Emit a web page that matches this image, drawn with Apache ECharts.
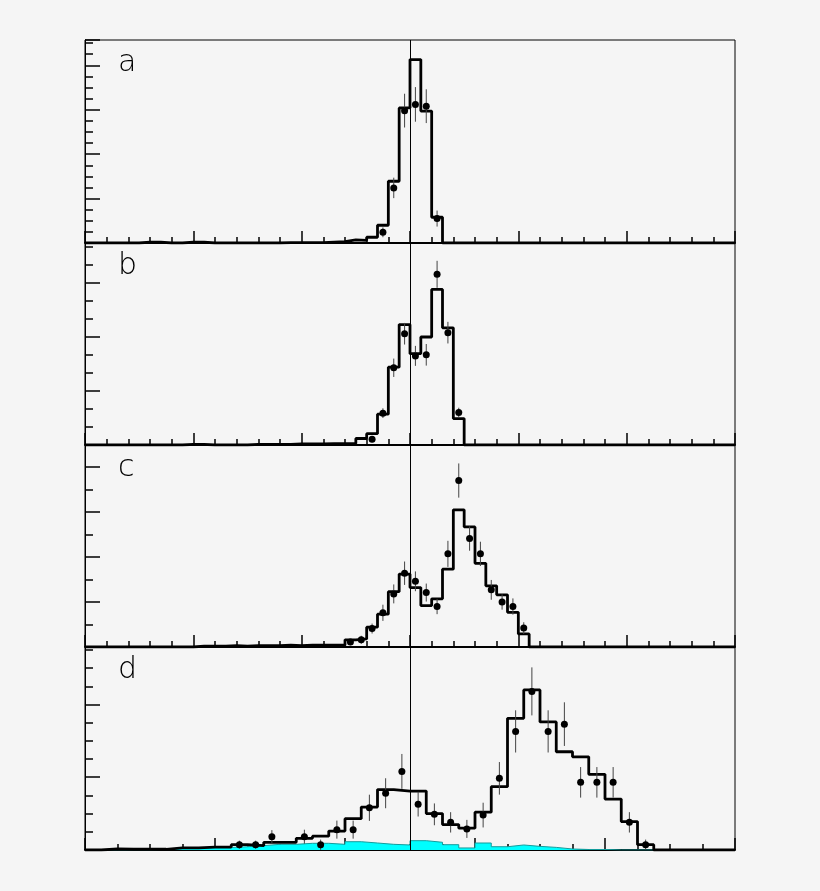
<!DOCTYPE html>
<html>
<head>
<meta charset="utf-8">
<script src="https://cdn.jsdelivr.net/npm/echarts@6/dist/echarts.min.js"></script>
<style>
  html, body { margin: 0; padding: 0; background: #f5f5f5; }
  #chart { width: 820px; height: 891px; }
</style>
</head>
<body>
<div id="chart"></div>
<script>
// panel labels
const panelNames = ['a', 'b', 'c', 'd']

// histogram bin contents (a-c: 60 bins, d: 40 bins)
const histA = [0, 0, 0, 0, 0, 0.2, 0.2, 0, 0, 0.2, 0.2, 0, 0, 0, 0, 0, 0, 0, 0.1, 0.1,
  0.1, 0.1, 0.2, 0.3, 0.7, 0.6, 1.3, 4.0, 13.9, 30.4, 41.3, 29.7, 5.8, 0, 0, 0, 0, 0, 0, 0,
  0, 0, 0, 0, 0, 0, 0, 0, 0, 0, 0, 0, 0, 0, 0, 0, 0, 0, 0, 0]
const histB = [0, 0, 0, 0, 0, 0, 0, 0, 0, 0.1, 0.1, 0, 0, 0, 0, 0.1, 0.1, 0.1, 0.1, 0.2,
  0.2, 0.2, 0.25, 0.25, 0.3, 1.2, 2.1, 5.7, 14.4, 22.3, 16.9, 20.0, 28.8, 21.7, 4.9, 0, 0, 0, 0, 0,
  0, 0, 0, 0, 0, 0, 0, 0, 0, 0, 0, 0, 0, 0, 0, 0, 0, 0, 0, 0]
const histC = [0, 0, 0, 0, 0, 0, 0, 0, 0, 0, 0.2, 0.2, 0.2, 0.3, 0.2, 0.3, 0.3, 0.3, 0.4, 0.3,
  0.4, 0.4, 0.4, 0.4, 1.6, 1.8, 4.4, 7.3, 12.3, 16.2, 13.2, 9.2, 10.7, 17.3, 30.5, 26.7, 18.6, 13.6, 11.6, 7.7,
  2.9, 0, 0, 0, 0, 0, 0, 0, 0, 0, 0, 0, 0, 0, 0, 0, 0, 0, 0, 0]
const histD = [0, 0.15, 0.1, 0.1, 0.1, 0.3, 0.3, 0.4, 0.4, 0.73, 0.6, 1.06, 1.06, 1.6, 1.9, 2.6, 4.3, 5.9, 8.3, 8.1,
  8.1, 5.0, 3.5, 3.0, 5.2, 8.7, 18.1, 22.0, 17.6, 13.5, 12.8, 10.4, 7.0, 3.9, 0.73, 0, 0, 0, 0, 0]
// background component in panel d
const bkgD = [0, 0, 0, 0, 0.1, 0.3, 0.3, 0.35, 0.35, 0.45, 0.6, 0.78, 0.78, 0.92, 0.92, 0.78, 1.14, 0.96, 0.78, 0.69,
  1.28, 1.06, 0.73, 0.28, 0.96, 0.45, 0.69, 0.5, 0.36, 0.14, 0.07, 0.07, 0, 0, 0, 0, 0, 0, 0, 0]

// data points: first bin index, values, errors
const ptStartA = 27
const ptsA = [2.4, 12.4, 29.8, 31.2, 30.8, 5.5]
const errA = [1.1, 2.3, 3.8, 3.9, 3.8, 1.8]
const ptStartB = 26
const ptsB = [1.05, 5.9, 14.3, 20.6, 16.5, 16.7, 31.6, 20.8, 6.0]
const errB = [0.55, 0.9, 1.7, 2.0, 1.85, 2.0, 2.5, 2.0, 0.9]
const ptStartC = 24
const ptsC = [1.1, 1.6, 4.1, 7.6, 11.8, 16.4, 14.6, 12.1, 9.0, 20.7, 37.0, 24.1, 20.7, 12.7, 10.0, 9.0, 4.2]
const errC = [0.7, 0.9, 1.1, 1.8, 2.1, 2.6, 2.2, 2.0, 1.7, 2.9, 3.8, 2.7, 2.7, 2.2, 1.7, 1.8, 1.3]
const ptStartD = 9
const ptsD = [0.73, 0.73, 1.83, null, 1.83, 0.73, 2.8, 2.8, 5.8, 7.8, 10.8, 6.3, 4.9, 3.8, 2.9, 4.8,
  9.85, 16.3, 21.8, 16.3, 17.3, 9.3, 9.3, 9.3, 3.8, 0.73]
const errD = [0.55, 0.55, 0.9, null, 0.96, 0.7, 1.24, 1.24, 1.8, 2.06, 2.4, 1.7, 1.5, 1.4, 1.24, 1.7,
  2.24, 2.9, 3.3, 2.9, 3.0, 2.1, 2.1, 2.1, 1.4, 0.7]

// axis ranges
const yMax = [45.7, 37.4, 44.9, 27.9]
const yMinorSplit = [4, 3, 2, 4]

const panels = [
  { hist: histA, start: ptStartA, pts: ptsA, err: errA, nBins: 60 },
  { hist: histB, start: ptStartB, pts: ptsB, err: errB, nBins: 60 },
  { hist: histC, start: ptStartC, pts: ptsC, err: errC, nBins: 60 },
  { hist: histD, start: ptStartD, pts: ptsD, err: errD, nBins: 40 }
]
const gridTops = [40, 243, 445, 647]
const gridHeights = [203, 202, 202, 203]

function stepData (vals) {
  const d = vals.map((v, i) => [i, v])
  d.push([vals.length, vals[vals.length - 1]])
  return d
}

function pointData (p) {
  const out = []
  p.pts.forEach((v, j) => {
    if (v !== null) out.push([p.start + j + 0.5, v, p.err[j]])
  })
  return out
}

const chartObj = echarts.init(document.getElementById('chart'))

const grid = []
const xAxis = []
const yAxis = []
const series = []
const graphic = []

panels.forEach((p, i) => {
  const isD = i === 3
  grid.push({
    left: 85,
    width: 650,
    top: gridTops[i],
    height: gridHeights[i],
    show: true,
    borderColor: '#000',
    borderWidth: 1,
    backgroundColor: 'transparent'
  })
  xAxis.push({
    type: 'value',
    gridIndex: i,
    min: 0,
    max: p.nBins,
    interval: isD ? 8 : 10,
    axisLine: { onZero: false, lineStyle: { color: '#000', width: 2 } },
    axisTick: { inside: true, length: 12, lineStyle: { color: '#000', width: 1.5 } },
    minorTick: { show: true, splitNumber: isD ? 4 : 5, length: 6, lineStyle: { color: '#000', width: 1.5 } },
    axisLabel: { show: false },
    splitLine: { show: false }
  })
  yAxis.push({
    type: 'value',
    gridIndex: i,
    min: 0,
    max: yMax[i],
    interval: 10,
    axisLine: { lineStyle: { color: '#000', width: 1 } },
    axisTick: { inside: true, length: 15, lineStyle: { color: '#000', width: 1.5 } },
    minorTick: { show: true, splitNumber: yMinorSplit[i], length: 8, lineStyle: { color: '#000', width: 1.5 } },
    axisLabel: { show: false },
    splitLine: { show: false }
  })

  if (isD) {
    series.push({
      type: 'line',
      xAxisIndex: i,
      yAxisIndex: i,
      step: 'end',
      symbol: 'none',
      data: stepData(bkgD),
      lineStyle: { color: '#139c9c', width: 1 },
      areaStyle: { color: '#00ffff', opacity: 1 },
      z: 2
    })
  }

  series.push({
    type: 'line',
    xAxisIndex: i,
    yAxisIndex: i,
    step: 'end',
    symbol: 'none',
    data: stepData(p.hist),
    lineStyle: { color: '#000', width: 2.8 },
    z: 3,
    markLine: {
      silent: true,
      symbol: 'none',
      label: { show: false },
      lineStyle: { color: '#000', width: 1, type: 'solid' },
      data: [{ xAxis: p.nBins / 2 }]
    }
  })

  const pd = pointData(p)
  series.push({
    type: 'custom',
    xAxisIndex: i,
    yAxisIndex: i,
    data: pd,
    z: 4,
    renderItem: function (params, api) {
      const x = api.value(0)
      const y = api.value(1)
      const e = api.value(2)
      const p1 = api.coord([x, y - e])
      const p2 = api.coord([x, y + e])
      return {
        type: 'line',
        shape: { x1: p1[0], y1: p1[1], x2: p2[0], y2: p2[1] },
        style: { stroke: '#444', lineWidth: 1 }
      }
    }
  })
  series.push({
    type: 'scatter',
    xAxisIndex: i,
    yAxisIndex: i,
    data: pd.map(d => [d[0], d[1]]),
    symbol: 'circle',
    symbolSize: 7,
    itemStyle: { color: '#000', opacity: 1 },
    z: 5
  })

  graphic.push({
    type: 'text',
    left: 118,
    top: gridTops[i] + 8,
    style: {
      text: panelNames[i],
      font: '200 30px "DejaVu Sans"',
      fill: '#000'
    }
  })
})

chartObj.setOption({
  animation: false,
  backgroundColor: '#f5f5f5',
  grid: grid,
  xAxis: xAxis,
  yAxis: yAxis,
  series: series,
  graphic: graphic
})
</script>
</body>
</html>
